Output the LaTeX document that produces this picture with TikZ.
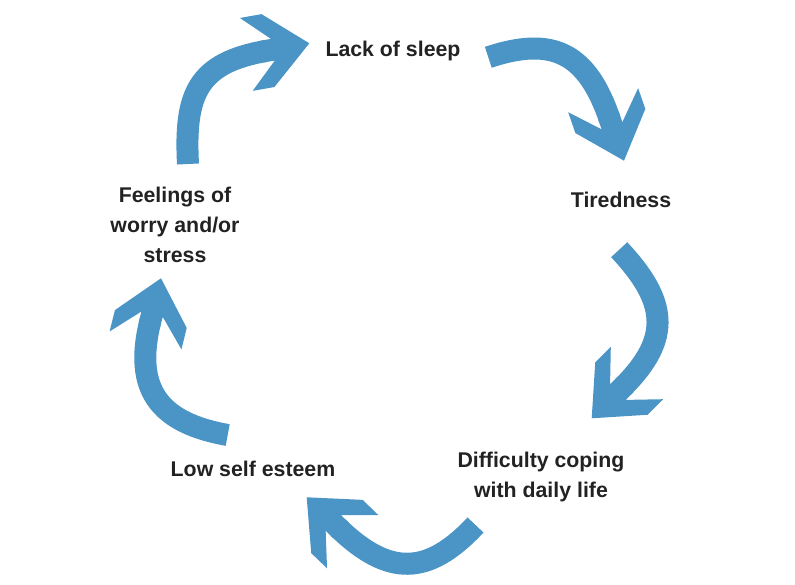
\documentclass[tikz,border=0pt]{standalone}
\usepackage{fontspec}
\setmainfont{Liberation Sans}
\usetikzlibrary{calc}
\definecolor{arrowblue}{RGB}{74,148,198}
\definecolor{textgrey}{RGB}{34,34,34}
\tikzset{
  stage/.style={align=center, text=textgrey, font=\bfseries\fontsize{21.3}{30}\selectfont},
  loop arrow/.style={draw=arrowblue, line width=22pt},
  arrowhead/.pic={\fill[arrowblue] (0,0) -- (-42,37) -- (-64,37) -- (-37,11) -- (-48,11)
    -- (-48,-11) -- (-37,-11) -- (-64,-37) -- (-42,-37) -- cycle;}
}
\begin{document}
\begin{tikzpicture}[x=1pt, y=1pt]
  \useasboundingbox (0,0) rectangle (795,584);

  % ***************** STAGES *****************
  \node[stage] (sleep) at (393,533) {Lack of sleep};
  \node[stage] (tired) at (621,384) {Tiredness};
  \node[stage] (coping) at (541,107) {Difficulty coping\\with daily life};
  \node[stage] (esteem) at (253,115) {Low self esteem};
  \node[stage] (worry) at (175,359) {Feelings of\\worry and/or\\stress};

  % ***************** ARROW ENDS *****************
  \coordinate (worry-out) at (188,420);
  \coordinate (sleep-in) at (309.3,540.7);
  \coordinate (sleep-out) at (488.3,526.7);
  \coordinate (tired-in) at (624,423.3);
  \coordinate (tired-out) at (619.2,334.3);
  \coordinate (coping-in) at (591.7,165.7);
  \coordinate (coping-out) at (475.5,59);
  \coordinate (esteem-in) at (306.7,86.7);
  \coordinate (esteem-out) at (227.7,149);
  \coordinate (worry-in) at (161,305.7);

  % ***************** ARROWS *****************
  \draw[loop arrow] (worry-out) to[out=93, in=190, looseness=1.3] ($(sleep-in)+(190:44)$);
  \pic[rotate=10] at (sleep-in) {arrowhead};

  \draw[loop arrow] (sleep-out) to[out=18.5, in=109, looseness=1.3] ($(tired-in)+(109:44)$);
  \pic[rotate=-71] at (tired-in) {arrowhead};

  \draw[loop arrow] (tired-out) to[out=-47, in=45, looseness=1.3] ($(coping-in)+(45:44)$);
  \pic[rotate=-135] at (coping-in) {arrowhead};

  \draw[loop arrow] (coping-out) to[out=-133, in=-44, looseness=1.3] ($(esteem-in)+(-44:44)$);
  \pic[rotate=136] at (esteem-in) {arrowhead};

  \draw[loop arrow] (esteem-out) to[out=170, in=-104, looseness=1.3] ($(worry-in)+(-104:44)$);
  \pic[rotate=76] at (worry-in) {arrowhead};

\end{tikzpicture}
\end{document}
